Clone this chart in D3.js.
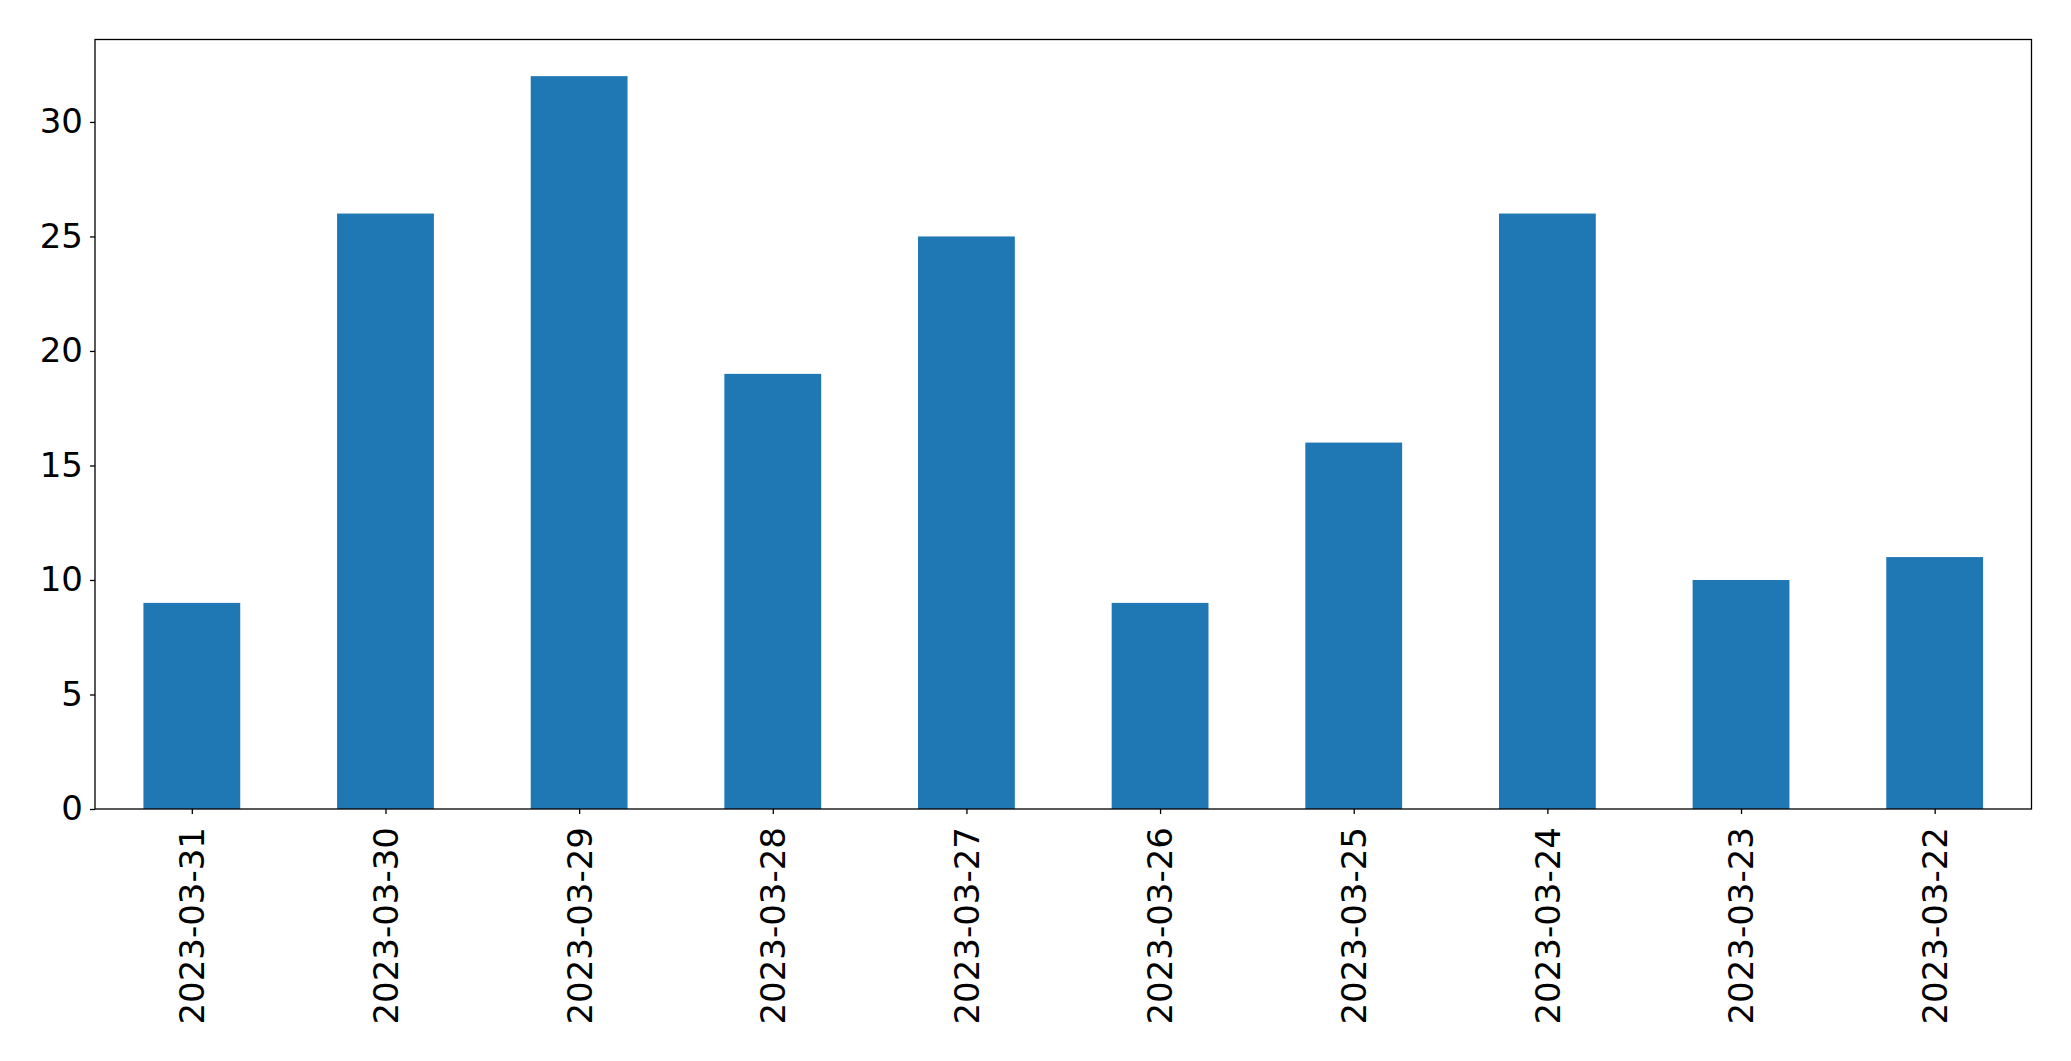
<!DOCTYPE html>
<html>
<head>
<meta charset="utf-8">
<script src="https://cdn.jsdelivr.net/npm/d3@7"></script>
<style>
  body { margin: 0; background: #fff; }
  svg { display: block; }
  .tick text { font-family: "DejaVu Sans", sans-serif; font-size: 34px; fill: #000; }
</style>
</head>
<body>
<svg></svg>
<script>
var dates = ["2023-03-31", "2023-03-30", "2023-03-29", "2023-03-28", "2023-03-27",
             "2023-03-26", "2023-03-25", "2023-03-24", "2023-03-23", "2023-03-22"];
var counts = [9, 26, 32, 19, 25, 9, 16, 26, 10, 11];
var yTicks = [0, 5, 10, 15, 20, 25, 30];

var screen = {width: 2071, height: 1061};
var margins = {top: 39.5, right: 39.5, bottom: 252, left: 95};

var width = screen.width - margins.left - margins.right;
var height = screen.height - margins.top - margins.bottom;

var svg = d3.select("svg")
    .attr("width", screen.width)
    .attr("height", screen.height);

var graph = svg.append("g")
    .attr("transform", "translate(" + margins.left + "," + margins.top + ")");

// matplotlib style: categories at 0..n-1, limits -0.5..n-0.5, bar width 0.5
var xScale = d3.scaleLinear().domain([-0.5, dates.length - 0.5]).range([0, width]);
var yScale = d3.scaleLinear().domain([0, d3.max(counts) * 1.05]).range([height, 0]);

graph.selectAll("rect.bar")
    .data(counts)
    .enter()
    .append("rect")
    .attr("class", "bar")
    .attr("x", function(d, i){ return xScale(i - 0.25); })
    .attr("width", function(d, i){ return xScale(i + 0.25) - xScale(i - 0.25); })
    .attr("y", function(d){ return yScale(d); })
    .attr("height", function(d){ return yScale(0) - yScale(d); })
    .style("fill", "#1f77b4");

var xAxis = d3.axisBottom(xScale)
    .tickValues(d3.range(dates.length))
    .tickFormat(function(i){ return dates[i]; })
    .tickSize(5)
    .tickPadding(8);

var yAxis = d3.axisLeft(yScale)
    .tickValues(yTicks)
    .tickSize(5)
    .tickPadding(7);

var gx = graph.append("g")
    .attr("transform", "translate(0," + height + ")")
    .call(xAxis);
gx.select(".domain").remove();
gx.selectAll(".tick line").attr("stroke-width", 1.3);
gx.selectAll(".tick text")
    .attr("transform", "rotate(-90)")
    .attr("x", -18)
    .attr("y", 0)
    .attr("dy", "0.35em")
    .style("text-anchor", "end");

var gy = graph.append("g").call(yAxis);
gy.select(".domain").remove();
gy.selectAll(".tick line").attr("stroke-width", 1.3);

// frame
graph.append("rect")
    .attr("x", 0)
    .attr("y", 0)
    .attr("width", width)
    .attr("height", height)
    .style("fill", "none")
    .style("stroke", "#000")
    .style("stroke-width", 1.3);
</script>
</body>
</html>
